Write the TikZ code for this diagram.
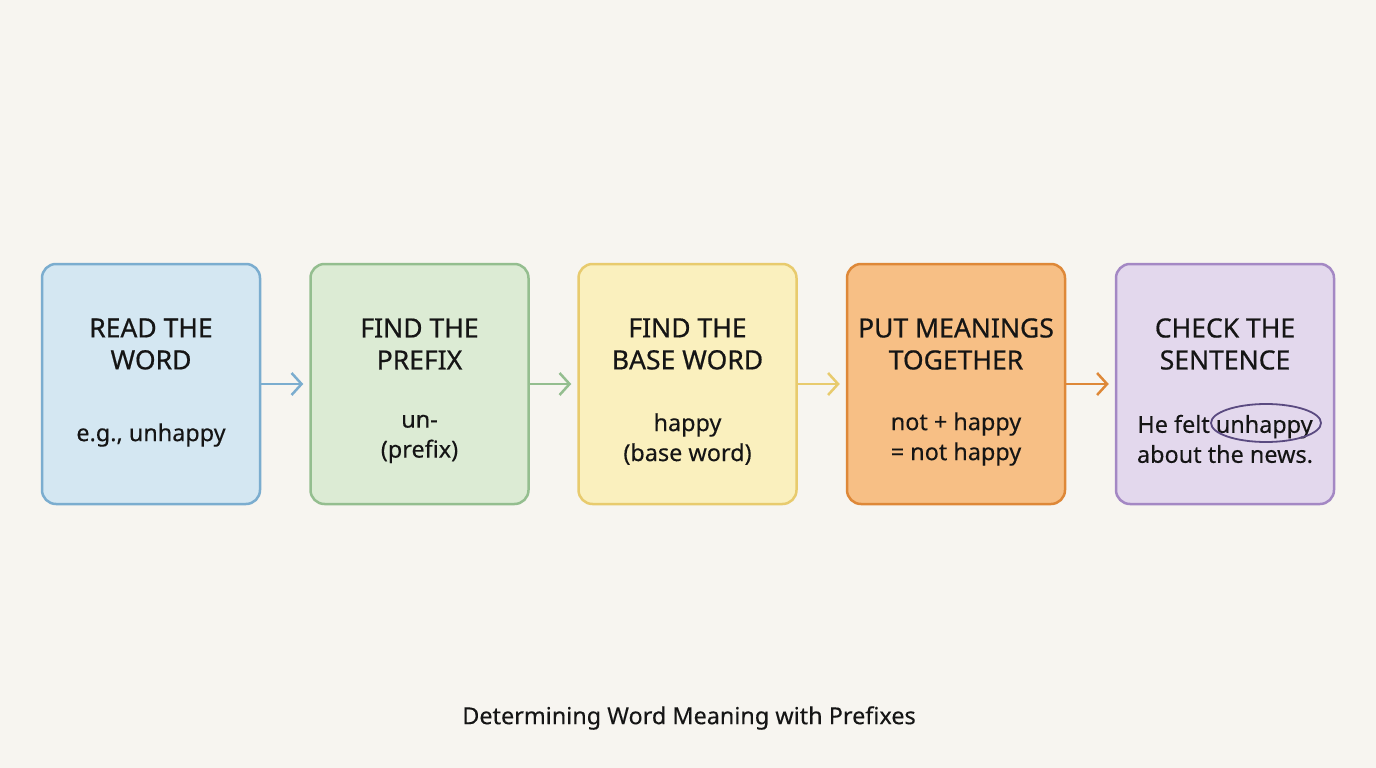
\documentclass[tikz,border=0pt]{standalone}
\usepackage{fontspec}
\setmainfont{Noto Sans}
\usetikzlibrary{shapes.geometric,arrows.meta}
\definecolor{bg}{HTML}{F7F5F0}
\definecolor{f1}{HTML}{D4E7F2}\definecolor{d1}{HTML}{7BADCF}
\definecolor{f2}{HTML}{DCEBD4}\definecolor{d2}{HTML}{94BE8F}
\definecolor{f3}{HTML}{FAF0BE}\definecolor{d3}{HTML}{E8CB6E}
\definecolor{f4}{HTML}{F7BF85}\definecolor{d4}{HTML}{DE8838}
\definecolor{f5}{HTML}{E3D8ED}\definecolor{d5}{HTML}{A488C4}
\definecolor{ring}{HTML}{5A4A80}
\definecolor{ink}{HTML}{151515}
\newfontfamily\medfont[FakeBold=0.6]{Noto Sans}
\newfontfamily\bodyfont[FakeBold=0.25]{Noto Sans}
\tikzset{
  stepbox/.style={draw=#1, line width=2.5pt, rounded corners=14pt, minimum width=218pt, minimum height=240pt, inner sep=0pt},
  ttl/.style={text=ink, font=\medfont\fontsize{26.5}{32}\selectfont, align=center, inner sep=0pt},
  bdy/.style={text=ink, font=\bodyfont\fontsize{23.4}{30}\selectfont, align=center, inner sep=0pt},
  flow/.style={draw=#1, line width=2.5pt, -{Straight Barb[length=10pt,width=22pt,line width=2.5pt]}}
}
\begin{document}
\begin{tikzpicture}[x=1pt,y=-1pt]
\fill[bg] (0,0) rectangle (1376,768);
\useasboundingbox (0,0) rectangle (1376,768);
\node[stepbox=d1, fill=f1] (b1) at (151,384) {};
\node[stepbox=d2, fill=f2] (b2) at (419.5,384) {};
\node[stepbox=d3, fill=f3] (b3) at (687.5,384) {};
\node[stepbox=d4, fill=f4] (b4) at (956,384) {};
\node[stepbox=d5, fill=f5] (b5) at (1225,384) {};
\node[ttl] (t1) at (151,344) {READ THE\\WORD};
\node[ttl] (t2) at (419.5,344) {FIND THE\\PREFIX};
\node[ttl] (t3) at (687.5,344) {FIND THE\\BASE WORD};
\node[ttl] (t4) at (956,344) {PUT MEANINGS\\TOGETHER};
\node[ttl] (t5) at (1225,344) {CHECK THE\\SENTENCE};
\node[bdy] (e1) at (151,435) {e.g., unhappy};
\node[bdy] (e2) at (419.5,439) {un-\\(prefix)};
\node[bdy] (e3) at (687.5,439) {happy\\(base word)};
\node[bdy] (e4) at (956,439) {not + happy\\= not happy};
\node[bdy] (e5) at (1225,439) {He felt unhappy\\about the news.};
\node[draw=ring, line width=1.8pt, ellipse, minimum width=110pt, minimum height=38pt, inner sep=0pt] (ring) at (1266,423) {};
\draw[flow=d1] (b1.east) -- ([xshift=-6pt]b2.west);
\draw[flow=d2] (b2.east) -- ([xshift=-6pt]b3.west);
\draw[flow=d3] (b3.east) -- ([xshift=-6pt]b4.west);
\draw[flow=d4] (b4.east) -- ([xshift=-6pt]b5.west);
\node[text=ink, font=\bodyfont\fontsize{23.4}{26}\selectfont, inner sep=0pt] (cap) at (689,718) {Determining Word Meaning with Prefixes};
\end{tikzpicture}
\end{document}
